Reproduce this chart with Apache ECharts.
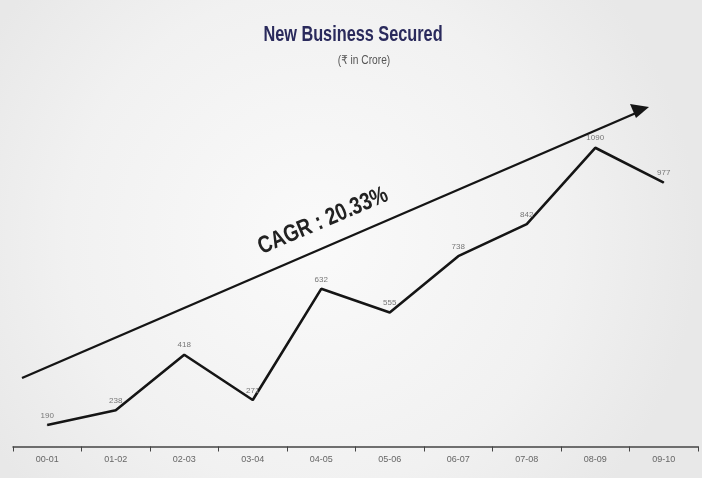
<!DOCTYPE html>
<html><head><meta charset="utf-8">
<script src="https://cdn.jsdelivr.net/npm/echarts@6/dist/echarts.min.js"></script>
<style>html,body{margin:0;padding:0;}#c{width:702px;height:478px;}</style>
</head><body><div id="c"></div>
<script>
const categories = ['00-01','01-02','02-03','03-04','04-05','05-06','06-07','07-08','08-09','09-10'];
const values = [190, 238, 418, 271, 632, 555, 738, 842, 1090, 977];
const titleText = 'New Business Secured';
const subText = '(₹ in Crore)';
const cagrText = 'CAGR : 20.33%';

const chart = echarts.init(document.getElementById('c'));
const ff = "'Liberation Sans','DejaVu Sans',sans-serif";
chart.setOption({
  backgroundColor: {
    type: 'radial', x: 0.45, y: 0.5, r: 0.8,
    colorStops: [{offset: 0, color: '#fafafa'}, {offset: 0.65, color: '#f1f1f1'}, {offset: 1, color: '#e8e8e8'}]
  },
  animation: false,
  grid: {left: 13, right: 4, top: 21.5, bottom: 31.5},
  xAxis: {
    type: 'category', data: categories, boundaryGap: true,
    axisLine: {lineStyle: {color: '#444', width: 1.5}},
    axisTick: {show: true, lineStyle: {color: '#444'}, length: 5},
    axisLabel: {color: '#666', fontSize: 9, fontFamily: ff, margin: 9}
  },
  yAxis: {type: 'value', min: 120, max: 1500, show: false, splitLine: {show: false}},
  series: [{
    type: 'line', data: values,
    symbol: 'circle', symbolSize: 1, showSymbol: true,
    lineStyle: {color: '#151515', width: 2.6},
    itemStyle: {color: '#151515'},
    label: {show: true, position: 'top', distance: 5, color: '#777', fontSize: 8, fontFamily: ff}
  }],
  graphic: [
    {type: 'text', x: 353, y: 35, scaleX: 0.74,
     style: {text: titleText, fontFamily: ff, fontWeight: 'bold', fontSize: 22, fill: '#2a2a5c', align: 'center', verticalAlign: 'middle'}},
    {type: 'text', x: 364, y: 61, scaleX: 0.85,
     style: {text: subText, fontFamily: ff, fontSize: 12, fill: '#555', align: 'center', verticalAlign: 'middle'}},
    {type: 'line', shape: {x1: 22, y1: 378, x2: 636, y2: 113}, style: {stroke: '#151515', lineWidth: 2.4}},
    {type: 'polygon', shape: {points: [[649, 107], [630, 104], [636, 118]]}, style: {fill: '#151515'}},
    {type: 'text', x: 323, y: 221, rotation: 23 * Math.PI / 180, scaleX: 0.8,
     style: {text: cagrText, fontFamily: ff, fontWeight: 'bold', fontSize: 24, fill: '#222', align: 'center', verticalAlign: 'middle'}}
  ]
});
</script></body></html>
